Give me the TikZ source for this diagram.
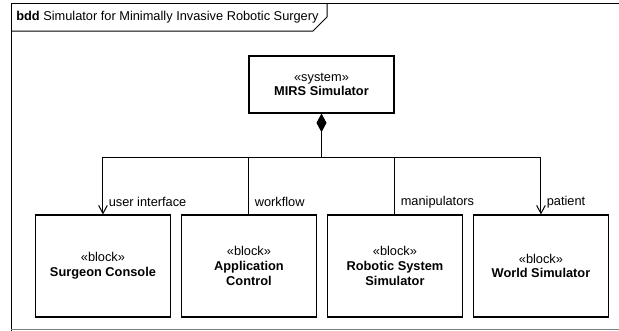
\documentclass[tikz,border=0pt]{standalone}
\usepackage{fontspec}
\setmainfont{Liberation Sans}
\usetikzlibrary{arrows.meta,positioning}

\begin{document}
\begin{tikzpicture}[x=0.75pt,y=-0.75pt,node distance=109.5pt,on grid,
    block/.style={draw,line width=0.8pt,minimum width=101.25pt,minimum height=76.5pt,align=center,inner sep=2pt},
    sysblock/.style={block,minimum width=108.75pt,minimum height=42.75pt},
    lbl/.style={font=\fontsize{9.6}{11}\selectfont,inner sep=1pt},
    assoc/.style={line width=0.75pt},
    part/.style={assoc,-{Straight Barb[length=6pt,width=6.5pt,line width=0.75pt]}},
    every node/.append style={font=\fontsize{9.6}{11}\selectfont}]
    \useasboundingbox (0,0) rectangle (619,330);
    % frame and its tab
    \draw[line width=0.75pt] (11,331) -- (11,3.5) -- (620,3.5);
    \draw[line width=0.75pt,gray] (11,329) -- (620,329);
    \draw[line width=0.75pt] (11,31) -- (313,31) -- (327,17) -- (327,3.5);
    \node[anchor=west,inner sep=0pt] (title) at (16,17) {\textbf{bdd} Simulator for Minimally Invasive Robotic Surgery};
    % system and its blocks
    \node[sysblock] (mirs) at (321.5,84.5) {«system»\\\textbf{MIRS Simulator}};
    \node[block, below left=136.1pt and 54.4pt of mirs] (appctl) {«block»\\\textbf{Application}\\\textbf{Control}};
    \node[block, left=of appctl] (console) {«block»\\\textbf{Surgeon Console}};
    \node[block, right=of appctl] (robsim) {«block»\\\textbf{Robotic System}\\\textbf{Simulator}};
    \node[block, right=of robsim] (worldsim) {«block»\\\textbf{World Simulator}};
    \coordinate[below=33pt of mirs.south] (bus);
    % composition
    \draw[assoc,{Diamond[length=14pt,width=7.5pt]}-] (mirs.south) -- (bus);
    \draw[part] (bus) -| node[lbl,pos=0.89,anchor=west,xshift=3pt] {user interface} (console.north);
    \draw[assoc] (bus) -| node[lbl,pos=0.89,anchor=west,xshift=3pt] {workflow} (appctl.north);
    \draw[assoc] (bus) -| node[lbl,pos=0.89,anchor=west,xshift=3pt] {manipulators} (robsim.north);
    \draw[part] (bus) -| node[lbl,pos=0.89,anchor=west,xshift=3pt] {patient} (worldsim.north);
\end{tikzpicture}
\end{document}
